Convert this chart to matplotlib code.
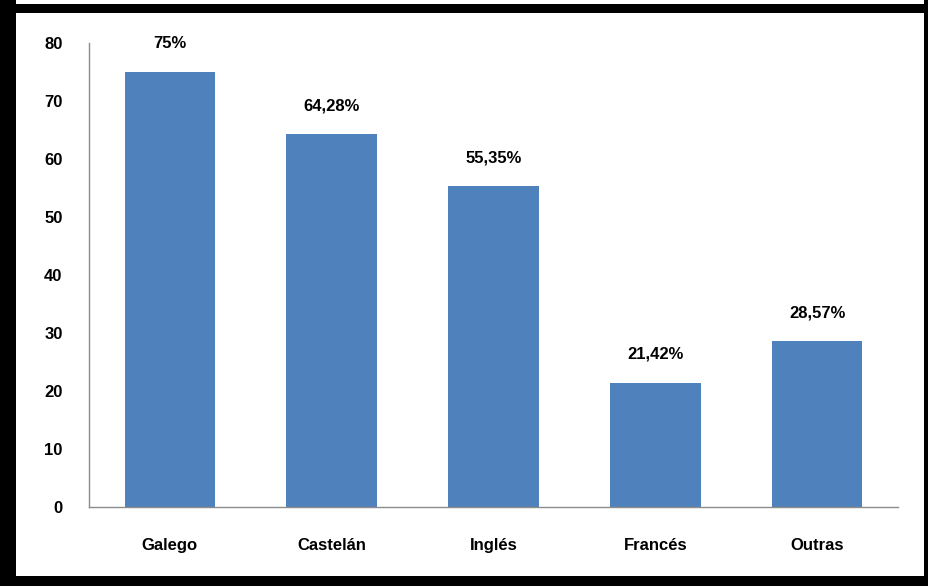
import matplotlib
matplotlib.use("Agg")
import matplotlib.pyplot as plt
from matplotlib.patches import Rectangle

linguas = ['Galego', 'Castelán', 'Inglés', 'Francés', 'Outras']
valores = [75, 64.28, 55.35, 21.42, 28.57]
etiquetas = ['75%', '64,28%', '55,35%', '21,42%', '28,57%']
yticks = [0, 10, 20, 30, 40, 50, 60, 70, 80]

plt.rcParams['font.family'] = ['Liberation Sans', 'DejaVu Sans']

fig = plt.figure(figsize=(9.29, 5.86), dpi=100)
ax = fig.add_axes([89 / 929, 79 / 586, 809 / 929, 464 / 586])

x = range(len(linguas))
bars = ax.bar(x, valores, width=0.56, color='#4F81BD')

for b, lab in zip(bars, etiquetas):
    ax.annotate(lab, (b.get_x() + b.get_width() / 2, b.get_height()),
                xytext=(0, 15), textcoords='offset points',
                ha='center', va='bottom', fontsize=12, fontweight='bold')

ax.set_xlim(-0.5, len(linguas) - 0.5)
ax.set_ylim(0, 80)
ax.set_yticks(yticks)
ax.set_xticks(list(x))
ax.set_xticklabels(linguas)
for t in ax.get_xticklabels() + ax.get_yticklabels():
    t.set_fontweight('bold')
    t.set_fontsize(12)
ax.tick_params(axis='x', length=0, pad=22)
ax.tick_params(axis='y', length=0, pad=19)

for s in ['top', 'right']:
    ax.spines[s].set_visible(False)
for s in ['left', 'bottom']:
    ax.spines[s].set_color('#8c8c8c')
    ax.spines[s].set_linewidth(1)

# marco negro arredor
W, H = 929, 586
for (x0, y0, w, h) in [(0, 0, 16, H), (0, H - 13, W, 9), (W - 5, 0, 5, H), (0, 0, W, 10)]:
    fig.patches.append(Rectangle((x0 / W, y0 / H), w / W, h / H, transform=fig.transFigure,
                                 facecolor='black', edgecolor='none', zorder=10))

fig.savefig('out.png', dpi=100)
